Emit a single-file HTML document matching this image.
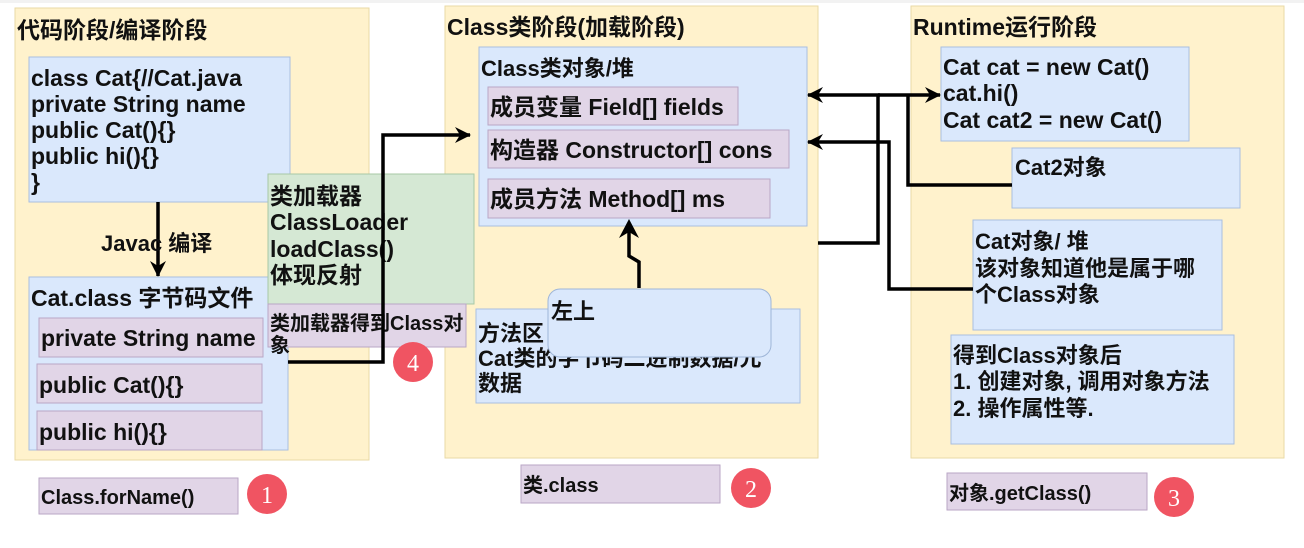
<!DOCTYPE html>
<html><head><meta charset="utf-8"><style>
body{margin:0;width:1304px;height:548px;background:#fff;overflow:hidden}
svg{display:block}
text{font-family:"Liberation Sans","Noto Sans CJK SC",sans-serif;font-weight:bold;fill:#111}
</style></head><body>
<svg width="1304" height="548" viewBox="0 0 1304 548">
<defs><marker id="ah" markerWidth="16" markerHeight="16" refX="15" refY="8" orient="auto" markerUnits="userSpaceOnUse"><path d="M0,0 L16,8 L0,16 L5,8 Z" fill="#000"/></marker></defs>
<rect x="0" y="0" width="1304" height="3" fill="#f2f2f2"/>
<rect x="15" y="8" width="354" height="452" fill="#fff2cc" stroke="#e9d9a6"/>
<rect x="445" y="6" width="373" height="452" fill="#fff2cc" stroke="#e9d9a6"/>
<rect x="911" y="6" width="373" height="452" fill="#fff2cc" stroke="#e9d9a6"/>
<text x="17" y="38" font-size="23">代码阶段/编译阶段</text>
<text x="447" y="35" font-size="23">Class类阶段(加载阶段)</text>
<text x="913" y="35" font-size="23">Runtime运行阶段</text>
<!-- left -->
<rect x="29" y="57" width="261" height="145" fill="#dae8fc" stroke="#a9bfe0"/>
<g font-size="23"><text x="31" y="86">class Cat{//Cat.java</text><text x="31" y="112">private String name</text><text x="31" y="138">public Cat(){}</text><text x="31" y="164">public hi(){}</text><text x="31" y="190">}</text></g>
<line x1="158" y1="202" x2="158" y2="276" stroke="#000" stroke-width="3.5" marker-end="url(#ah)"/>
<text x="101" y="251" font-size="22">Javac 编译</text>
<rect x="29" y="277" width="259" height="173" fill="#dae8fc" stroke="#a9bfe0"/>
<text x="31" y="306" font-size="23">Cat.class 字节码文件</text>
<rect x="39" y="318" width="224" height="39" fill="#e1d5e7" stroke="#b9a6c6"/>
<rect x="37" y="364" width="225" height="39" fill="#e1d5e7" stroke="#b9a6c6"/>
<rect x="37" y="411" width="225" height="39" fill="#e1d5e7" stroke="#b9a6c6"/>
<g font-size="23"><text x="41" y="346">private String name</text><text x="39" y="393">public Cat(){}</text><text x="39" y="440">public hi(){}</text></g>
<rect x="268" y="174" width="206" height="130" fill="#d5e8d4" stroke="#a8c8a6"/>
<g font-size="23"><text x="270" y="204">类加载器</text><text x="270" y="230">ClassLoader</text><text x="270" y="257">loadClass()</text><text x="270" y="283">体现反射</text></g>
<rect x="268" y="304" width="198" height="43" fill="#e1d5e7" stroke="#b9a6c6"/>
<text x="270" y="330" font-size="20">类加载器得到Class对</text><text x="270" y="352" font-size="20">象</text>
<polyline points="288,362 383,362 383,135 470,135" fill="none" stroke="#000" stroke-width="3.5" marker-end="url(#ah)"/>
<circle cx="413" cy="362" r="20" fill="#f05462"/><text x="413" y="371" font-size="24" text-anchor="middle" style="fill:#fff;font-family:'Liberation Serif',serif;font-weight:normal">4</text>
<rect x="39" y="478" width="199" height="36" fill="#e1d5e7" stroke="#b9a6c6"/>
<text x="41" y="504" font-size="20">Class.forName()</text>
<circle cx="267" cy="494" r="20" fill="#f05462"/><text x="267" y="503" font-size="24" text-anchor="middle" style="fill:#fff;font-family:'Liberation Serif',serif;font-weight:normal">1</text>
<!-- middle -->
<rect x="479" y="47" width="328" height="179" fill="#dae8fc" stroke="#a9bfe0"/>
<text x="481" y="76" font-size="22">Class类对象/堆</text>
<rect x="488" y="87" width="250" height="38" fill="#e1d5e7" stroke="#b9a6c6"/>
<rect x="488" y="130" width="301" height="38" fill="#e1d5e7" stroke="#b9a6c6"/>
<rect x="488" y="179" width="282" height="39" fill="#e1d5e7" stroke="#b9a6c6"/>
<g font-size="23"><text x="490" y="115">成员变量 Field[] fields</text><text x="490" y="158">构造器 Constructor[] cons</text><text x="490" y="207">成员方法 Method[] ms</text></g>
<rect x="476" y="309" width="324" height="94" fill="#dae8fc" stroke="#a9bfe0"/>
<g font-size="22"><text x="478" y="341">方法区</text><text x="478" y="366">Cat类的字节码二进制数据/元</text><text x="478" y="391">数据</text></g>
<polyline points="639,288 639,262 629,256 629,225" fill="none" stroke="#000" stroke-width="3.5"/>
<path d="M619,238 L629,219 L639,238 L629,232 Z" fill="#000"/>
<rect x="548" y="289" width="223" height="68" rx="12" fill="#dae8fc" stroke="#9fb6d8"/>
<text x="551" y="319" font-size="22">左上</text>
<rect x="521" y="465" width="199" height="38" fill="#e1d5e7" stroke="#b9a6c6"/>
<text x="523" y="492" font-size="20">类.class</text>
<circle cx="751" cy="488" r="20" fill="#f05462"/><text x="751" y="497" font-size="24" text-anchor="middle" style="fill:#fff;font-family:'Liberation Serif',serif;font-weight:normal">2</text>
<!-- right -->
<rect x="941" y="47" width="248" height="94" fill="#dae8fc" stroke="#a9bfe0"/>
<g font-size="23"><text x="943" y="75">Cat cat = new Cat()</text><text x="943" y="101">cat.hi()</text><text x="943" y="128">Cat cat2 = new Cat()</text></g>
<rect x="1012" y="148" width="228" height="60" fill="#dae8fc" stroke="#a9bfe0"/>
<text x="1015" y="175" font-size="22">Cat2对象</text>
<rect x="973" y="220" width="249" height="110" fill="#dae8fc" stroke="#a9bfe0"/>
<g font-size="22"><text x="975" y="249">Cat对象/ 堆</text><text x="975" y="276">该对象知道他是属于哪</text><text x="975" y="302">个Class对象</text></g>
<rect x="951" y="335" width="283" height="109" fill="#dae8fc" stroke="#a9bfe0"/>
<g font-size="22"><text x="953" y="363">得到Class对象后</text><text x="953" y="389">1. 创建对象, 调用对象方法</text><text x="953" y="416">2. 操作属性等.</text></g>
<rect x="947" y="473" width="200" height="37" fill="#e1d5e7" stroke="#b9a6c6"/>
<text x="949" y="500" font-size="20">对象.getClass()</text>
<circle cx="1174" cy="497" r="20" fill="#f05462"/><text x="1174" y="506" font-size="24" text-anchor="middle" style="fill:#fff;font-family:'Liberation Serif',serif;font-weight:normal">3</text>
<g fill="none" stroke="#000" stroke-width="3.5">
<line x1="880" y1="95" x2="808" y2="95" marker-end="url(#ah)"/>
<line x1="878" y1="95" x2="940" y2="95" marker-end="url(#ah)"/>
<polyline points="878,95 878,243 818,243"/>
<polyline points="908,95 908,185 1012,185"/>
<polyline points="973,289 889,289 889,142 808,142" marker-end="url(#ah)"/>
</g>
</svg>
</body></html>
